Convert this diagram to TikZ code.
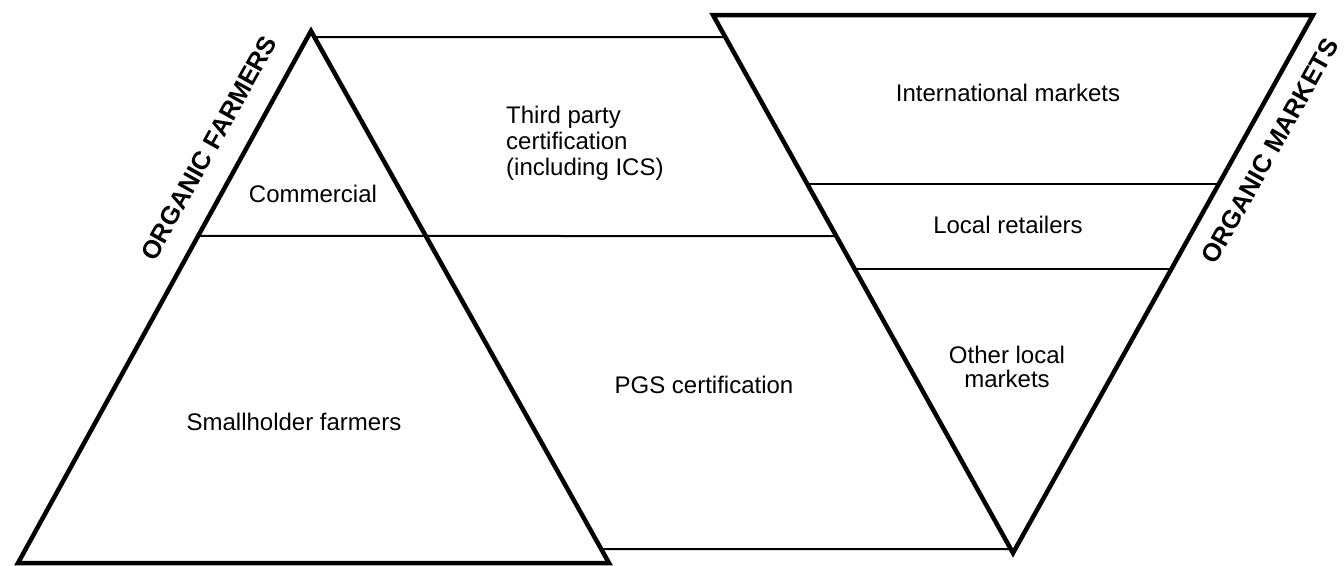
\documentclass[tikz,border=0pt]{standalone}
\usepackage{fontspec}
\setmainfont{Liberation Sans}
\usetikzlibrary{calc}
\begin{document}
\begin{tikzpicture}[x=1pt,y=-1pt,
  thickline/.style={line width=4.5pt, line join=miter},
  thinline/.style={line width=2pt},
  lbl/.style={font=\fontsize{24}{26}\selectfont, inner sep=0pt, anchor=base},
  side/.style={font=\fontsize{25.5}{28}\selectfont\bfseries, inner sep=0pt, rotate=60.8}]
\useasboundingbox (0,0) rectangle (1344,565);
% left triangle (farmers)
\coordinate (LA) at (311,31);
\coordinate (LL) at (18,563);
\coordinate (LR) at (609,563);
% right inverted triangle (markets)
\coordinate (RL) at (713,15);
\coordinate (RR) at (1313,15);
\coordinate (RB) at (1013,553);
% points on legs
\coordinate (l37) at ($(LA)!0.01128!(LR)$);
\coordinate (l236) at ($(LA)!0.3853!(LL)$);
\coordinate (l549) at ($(LA)!0.9737!(LR)$);
\coordinate (r37) at ($(RL)!0.04089!(RB)$);
\coordinate (r236) at ($(RL)!0.4108!(RB)$);
\coordinate (r549) at ($(RL)!0.9926!(RB)$);
\coordinate (a184) at ($(RL)!0.3141!(RB)$);
\coordinate (b184) at ($(RR)!0.3141!(RB)$);
\coordinate (a269) at ($(RL)!0.4721!(RB)$);
\coordinate (b269) at ($(RR)!0.4721!(RB)$);
% thin lines
\draw[thinline] (l37) -- (r37);
\draw[thinline] (l236) -- (r236);
\draw[thinline] (l549) -- (r549);
\draw[thinline] (a184) -- (b184);
\draw[thinline] (a269) -- (b269);
% triangles
\draw[thickline] (LA) -- (LL) -- (LR) -- cycle;
\draw[thickline] (RL) -- (RR) -- (RB) -- cycle;
% labels
\node[lbl] (comm) at (313,202) {Commercial};
\node[lbl] (small) at (294,430) {Smallholder farmers};
\node[lbl, anchor=base west, align=left] (third) at (506,175) {Third party\\certification\\(including ICS)};
\node[lbl] (pgs) at (704,393) {PGS certification};
\node[lbl] (intl) at (1008,101) {International markets};
\node[lbl] (loc) at (1008,233) {Local retailers};
\node[lbl, align=center, font=\fontsize{24}{23.5}\selectfont] (oth) at (1007,387) {Other local\\markets};
\node[side] (farm) at (209,148) {ORGANIC FARMERS};
\node[side] (mark) at (1270,151) {ORGANIC MARKETS};
\end{tikzpicture}
\end{document}
